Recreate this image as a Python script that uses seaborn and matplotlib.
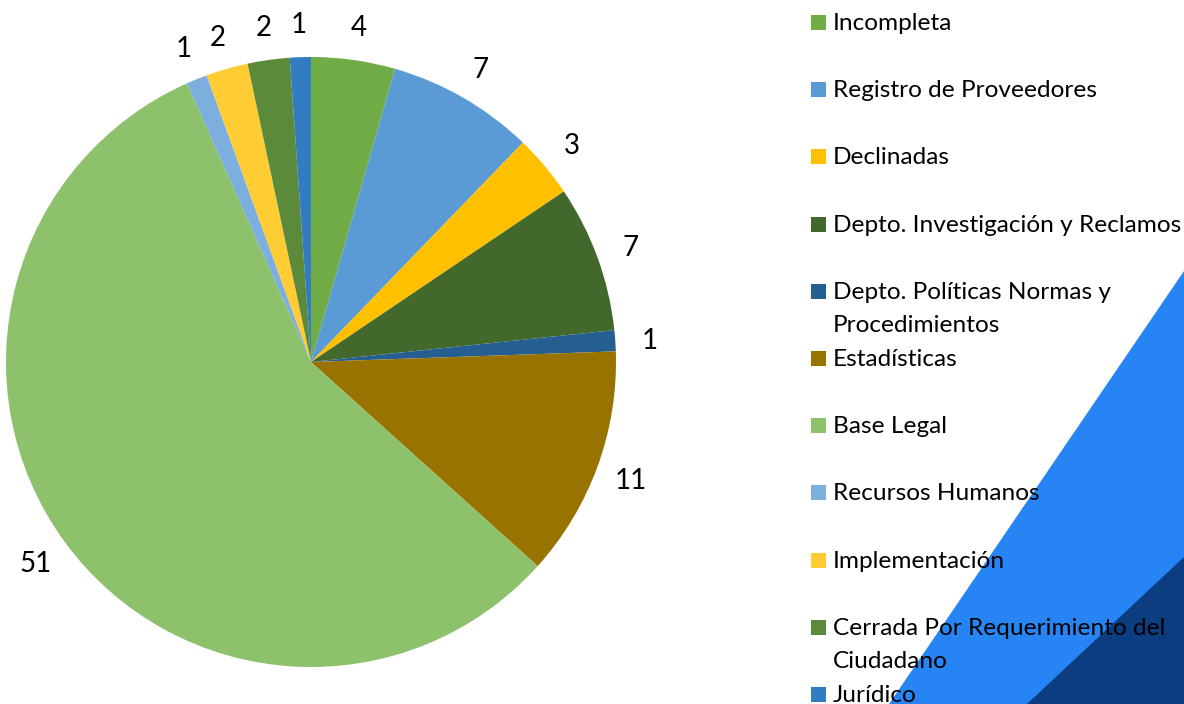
import matplotlib
matplotlib.use("Agg")
import matplotlib.pyplot as plt
from matplotlib.patches import Polygon, Rectangle
import seaborn as sns

categories = ["Incompleta", "Registro de Proveedores", "Declinadas",
              "Depto. Investigación y Reclamos",
              "Depto. Políticas Normas y\nProcedimientos", "Estadísticas",
              "Base Legal", "Recursos Humanos", "Implementación",
              "Cerrada Por Requerimiento del\nCiudadano", "Jurídico"]
values = [4, 7, 3, 7, 1, 11, 51, 1, 2, 2, 1]
colors = ["#70AD47", "#5B9BD5", "#FFC000", "#43682B", "#255E91", "#997300",
          "#8DC16B", "#7DAFDE", "#FFCD33", "#5A8A3A", "#327DC2"]

sns.set_theme(style="white")
plt.rcParams["font.family"] = ["Lato", "DejaVu Sans"]

W, H = 1184, 704
fig = plt.figure(figsize=(W / 100, H / 100), dpi=100)
fig.patch.set_facecolor("white")

# decorative background shapes
fig.add_artist(Polygon([(1184 / W, 1 - 271 / H), (1.0, 0.0), (889 / W, 0.0)],
                       closed=True, transform=fig.transFigure,
                       facecolor="#2684F5", edgecolor="none", zorder=0))
fig.add_artist(Polygon([(1184 / W, 1 - 557 / H), (1.0, 0.0), (1027 / W, 0.0)],
                       closed=True, transform=fig.transFigure,
                       facecolor="#0B3D80", edgecolor="none", zorder=0))

cx, cy, r = 311, 362, 305
ax = fig.add_axes([(cx - r) / W, 1 - (cy + r) / H, 2 * r / W, 2 * r / H])
ax.set_facecolor("none")
total = sum(values)
wedges, texts, autotexts = ax.pie(
    values, colors=colors, startangle=90, counterclock=False,
    autopct=lambda p: f"{round(p * total / 100)}", pctdistance=1.115,
    wedgeprops=dict(linewidth=0), radius=1)
for t in autotexts:
    t.set_fontsize(20)
    t.set_color("black")
    t.set_va("center_baseline")
ax.set_xlim(-1, 1)
ax.set_ylim(-1, 1)
ax.set_aspect("equal")
ax.axis("off")

# legend
y0, step = 22.5, 67.2
for i, (lab, col) in enumerate(zip(categories, colors)):
    y = y0 + i * step
    fig.add_artist(Rectangle((811 / W, 1 - (y + 7.5) / H), 15 / W, 15 / H,
                             transform=fig.transFigure, facecolor=col,
                             edgecolor="none", zorder=3))
    for k, line in enumerate(lab.split("\n")):
        fig.text(833 / W, 1 - (y + 1 + k * 33) / H, line, fontsize=17.6,
                 ha="left", va="center", color="black", zorder=4)

fig.savefig("out.png", dpi=100, facecolor="white")
